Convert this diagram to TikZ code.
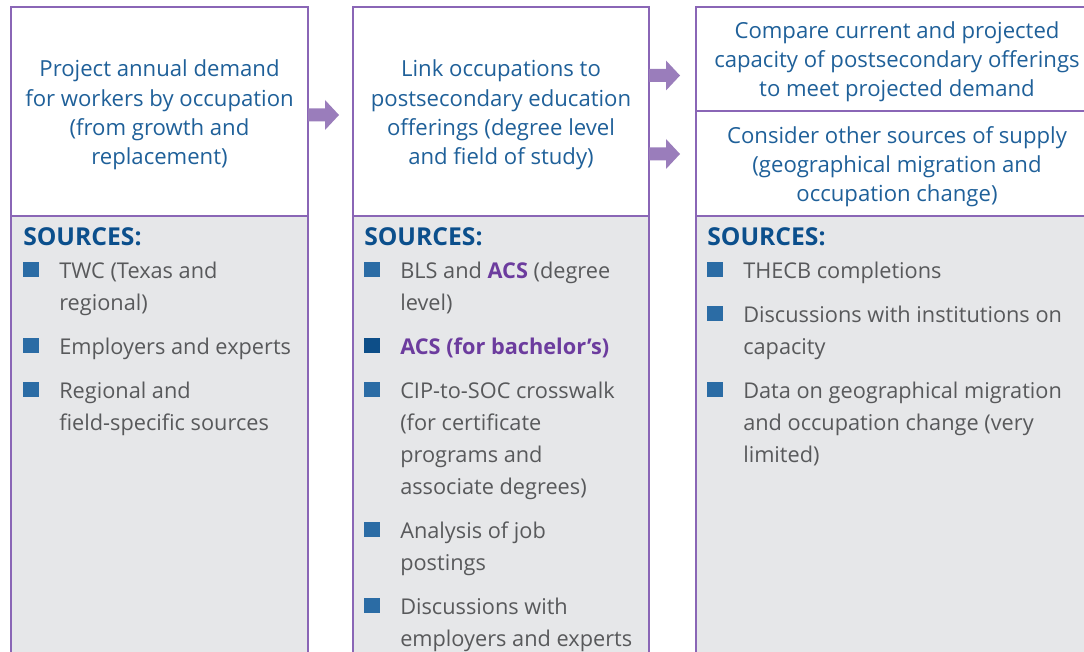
\documentclass[tikz,border=0pt]{standalone}
\usepackage{fontspec}
\setmainfont{Open Sans}
\usepackage{tikz}
\usetikzlibrary{positioning}

\definecolor{headblue}{HTML}{1F6099}
\definecolor{srcblue}{HTML}{0B4F8C}
\definecolor{sqblue}{HTML}{2B6CA5}
\definecolor{sqdark}{HTML}{0D4E88}
\definecolor{acspurple}{HTML}{6C3C9E}
\definecolor{bodygray}{HTML}{58595B}
\definecolor{panelgray}{HTML}{E6E7E9}
\definecolor{boxpurple}{HTML}{8A66B6}
\definecolor{arrowpurple}{HTML}{9A7DBB}

\tikzset{
  colbox/.style={draw=boxpurple, line width=0.9pt},
  headtext/.style={anchor=base, align=center, inner sep=0pt, text=headblue,
    font=\fontsize{16.6}{22}\selectfont},
  srchead/.style={anchor=base west, inner sep=0pt, text=srcblue,
    font=\fontsize{18.5}{22}\selectfont\bfseries},
  srcitem/.style={anchor=base west, align=left, inner sep=0pt, text=bodygray,
    font=\fontsize{16.3}{24}\selectfont},
  sq/.style={fill=sqblue, inner sep=0pt, minimum width=12pt, minimum height=11.25pt,
    anchor=south west},
}

% block arrow starting at a named coordinate
\newcommand{\fatarrow}[1]{%
  \fill[arrowpurple] (#1) ++(0,-6.5) -- ++(17,0) -- ++(0,-8.5) -- ++(14,15)
    -- ++(-14,15) -- ++(0,-8.5) -- ++(-17,0) -- cycle;}

\begin{document}
\begin{tikzpicture}[x=0.75pt,y=-0.75pt]
  \useasboundingbox (0,0) rectangle (1084,652);
  \clip (0,0) rectangle (1084,652);

  % panels
  \fill[panelgray] (11,216) rectangle (308,680);
  \fill[panelgray] (353,216) rectangle (649,680);
  \fill[panelgray] (696,216) rectangle (1110,680);
  \draw[colbox] (11,7) rectangle (308,680);
  \draw[colbox] (11,216) -- (308,216);
  \draw[colbox] (353,7) rectangle (649,680);
  \draw[colbox] (353,216) -- (649,216);
  \draw[colbox] (696,7) rectangle (1110,680);
  \draw[colbox] (696,111) -- (1110,111);
  \draw[colbox] (696,216) -- (1110,216);

  % arrows
  \coordinate (a1) at (308,115);
  \coordinate (a2) at (649,75.5);
  \coordinate (a3) at (649,154);
  \fatarrow{a1}
  \fatarrow{a2}
  \fatarrow{a3}

  % steps (anchored at the last line)
  \node[headtext] (demand) at (159.5,165) {Project annual demand\\for workers by occupation\\(from growth and\\replacement)};
  \node[headtext] (link) at (501,165) {Link occupations to\\postsecondary education\\offerings (degree level\\and field of study)};
  \node[headtext] (compare) at (897,97) {Compare current and projected\\capacity of postsecondary offerings\\to meet projected demand};
  \node[headtext] (supply) at (897,202) {Consider other sources of supply\\(geographical migration and\\occupation change)};

  % sources, column 1
  \node[srchead] (src1) at (23,246) {SOURCES:};
  \node[sq] (sq1a) at (23,277) {};
  \node[srcitem] (twc) at (59,310) {TWC (Texas and\\regional)};
  \node[sq] (sq1b) at (23,353) {};
  \node[srcitem] (emp) at (59,354) {Employers and experts};
  \node[sq] (sq1c) at (23,397) {};
  \node[srcitem] (reg) at (59,430) {Regional and\\field-specific sources};

  % sources, column 2
  \node[srchead] (src2) at (364,246) {SOURCES:};
  \node[sq] (sq2a) at (364,277) {};
  \node[srcitem] (bls) at (400,310) {BLS and \textcolor{acspurple}{\bfseries ACS} (degree\\level)};
  \node[sq, fill=sqdark] (sq2b) at (364,353) {};
  \node[srcitem, text=acspurple, font=\fontsize{16.3}{24}\selectfont\bfseries] (acs) at (400,354) {ACS (for bachelor’s)};
  \node[sq] (sq2c) at (364,397) {};
  \node[srcitem] (cip) at (400,494) {CIP-to-SOC crosswalk\\(for certificate\\programs and\\associate degrees)};
  \node[sq] (sq2d) at (364,537) {};
  \node[srcitem] (jobs) at (400,570) {Analysis of job\\postings};
  \node[sq] (sq2e) at (364,613) {};
  \node[srcitem] (disc) at (400,646) {Discussions with\\employers and experts};

  % sources, column 3
  \node[srchead] (src3) at (707,246) {SOURCES:};
  \node[sq] (sq3a) at (707,277) {};
  \node[srcitem] (thecb) at (743,278) {THECB completions};
  \node[sq] (sq3b) at (707,321) {};
  \node[srcitem] (inst) at (743,354) {Discussions with institutions on\\capacity};
  \node[sq] (sq3c) at (707,397) {};
  \node[srcitem] (geo) at (743,462) {Data on geographical migration\\and occupation change (very\\limited)};
\end{tikzpicture}
\end{document}
